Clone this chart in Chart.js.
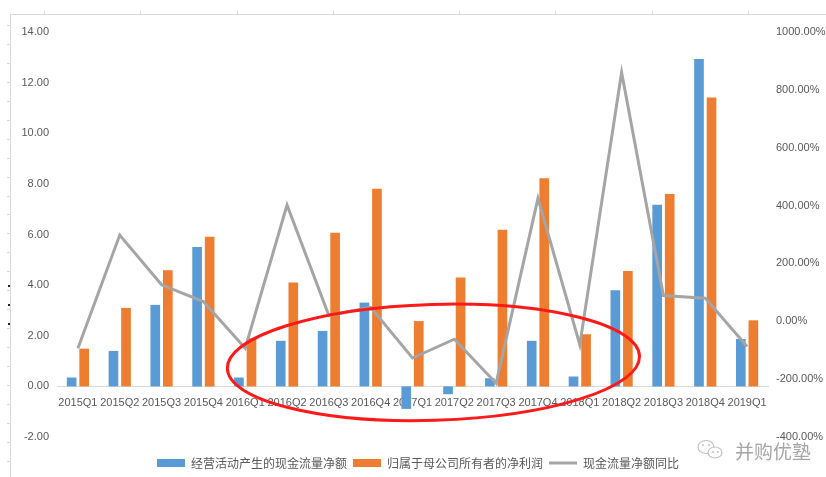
<!DOCTYPE html>
<html>
<head>
<meta charset="utf-8">
<script src="https://cdn.jsdelivr.net/npm/chart.js@4.4.0/dist/chart.umd.min.js"></script>
<style>
  html, body { margin: 0; padding: 0; background: #fff; }
  #wrap { position: relative; width: 826px; height: 477px; }
  #mark {
    position: absolute; left: 735px; top: 437px;
    font: 19px "Noto Sans CJK SC", sans-serif; color: #a6a6a6;
    letter-spacing: 0px; white-space: nowrap;
  }
</style>
</head>
<body>
<div id="wrap">
  <canvas id="chart" width="826" height="477"></canvas>
  <div id="mark">并购优塾</div>
</div>
<script>
const categories = ["2015Q1", "2015Q2", "2015Q3", "2015Q4", "2016Q1", "2016Q2", "2016Q3", "2016Q4",
    "2017Q1", "2017Q2", "2017Q3", "2017Q4", "2018Q1", "2018Q2", "2018Q3", "2018Q4", "2019Q1"];
const cashFlow = [0.35, 1.40, 3.22, 5.51, 0.35, 1.80, 2.19, 3.31, -0.89, -0.31, 0.32, 1.80, 0.39, 3.80, 7.18, 12.93, 1.87];
const netProfit = [1.49, 3.10, 4.59, 5.91, 1.90, 4.10, 6.07, 7.81, 2.58, 4.30, 6.19, 8.22, 2.06, 4.56, 7.60, 11.41, 2.61];
const cashFlowYoY = [-93, 298, 126, 68, -93, 402, 20, 48, -127, -62, -214, 425, -81, 860, 89, 80, -87];
const leftTicks = [-2, 0, 2, 4, 6, 8, 10, 12, 14];
const rightTicks = [-400, -200, 0, 200, 400, 600, 800, 1000];

const seriesNames = ["经营活动产生的现金流量净额", "归属于母公司所有者的净利润", "现金流量净额同比"];
const labelFont = { family: "'Liberation Sans', Arial, sans-serif", size: 11 };

// frame left over from the screenshot + the hand drawn red ellipse + wechat icon
const decorPlugin = {
    id: "decor",
    beforeDraw(chart) {
        const ctx = chart.ctx;
        ctx.save();
        ctx.strokeStyle = "#d9d9d9";
        ctx.lineWidth = 1;
        ctx.beginPath();
        ctx.moveTo(10, 14.5);
        ctx.lineTo(826, 14.5);
        ctx.moveTo(10.5, 14);
        ctx.lineTo(10.5, 477);
        [44, 140, 237, 333, 459, 555, 652, 748].forEach((x) => {
            ctx.moveTo(x + 0.5, 11);
            ctx.lineTo(x + 0.5, 14);
        });
        for (let y = 25; y < 477; y += 18.95) {
            ctx.moveTo(7, Math.round(y) + 0.5);
            ctx.lineTo(10, Math.round(y) + 0.5);
        }
        ctx.stroke();
        ctx.fillStyle = "#222";
        [285, 304, 323].forEach((y) => ctx.fillRect(8, y, 2, 2));
        ctx.restore();
    },
    afterDraw(chart) {
        const ctx = chart.ctx;
        const xs = chart.scales.x;
        const ys = chart.scales.y;
        const step = xs.getPixelForValue(1) - xs.getPixelForValue(0);
        const unit = ys.getPixelForValue(0) - ys.getPixelForValue(1);
        ctx.save();
        ctx.strokeStyle = "#ff1a1a";
        ctx.lineWidth = 3;
        ctx.beginPath();
        ctx.ellipse(xs.getPixelForValue(8.5), ys.getPixelForValue(0.95), 4.93 * step, 2.29 * unit, -0.03, 0, Math.PI * 2);
        ctx.stroke();

        // wechat icon next to the watermark
        ctx.strokeStyle = "#bfbfbf";
        ctx.lineWidth = 1.2;
        ctx.beginPath();
        ctx.ellipse(706, 447, 8, 6.5, 0, 0, Math.PI * 2);
        ctx.stroke();
        ctx.fillStyle = "#fff";
        ctx.beginPath();
        ctx.ellipse(715, 452.5, 7, 5.5, 0, 0, Math.PI * 2);
        ctx.fill();
        ctx.stroke();
        ctx.fillStyle = "#bfbfbf";
        [[703, 445], [709, 445], [713, 452], [718, 452]].forEach(([x, y]) => {
            ctx.beginPath();
            ctx.arc(x, y, 0.9, 0, Math.PI * 2);
            ctx.fill();
        });
        ctx.restore();
    },
};

const ctx = document.getElementById("chart").getContext("2d");
new Chart(ctx, {
    data: {
        labels: categories,
        datasets: [
            {
                type: "bar",
                label: seriesNames[0],
                data: cashFlow,
                backgroundColor: "#5b9bd5",
                yAxisID: "y",
                order: 1,
                categoryPercentage: 0.6,
                barPercentage: 0.77,
            },
            {
                type: "bar",
                label: seriesNames[1],
                data: netProfit,
                backgroundColor: "#ed7d31",
                yAxisID: "y",
                order: 1,
                categoryPercentage: 0.6,
                barPercentage: 0.77,
            },
            {
                type: "line",
                label: seriesNames[2],
                data: cashFlowYoY,
                borderColor: "#a5a5a5",
                backgroundColor: "#a5a5a5",
                borderWidth: 3,
                pointRadius: 0,
                tension: 0,
                yAxisID: "y1",
                order: 0,
            },
        ],
    },
    options: {
        responsive: false,
        animation: false,
        layout: { padding: { left: 10, right: 0, top: 32, bottom: -2 } },
        plugins: {
            tooltip: { enabled: false },
            legend: {
                position: "bottom",
                labels: {
                    usePointStyle: true,
                    pointStyleWidth: 28,
                    boxHeight: 8,
                    padding: 6,
                    color: "#595959",
                    font: { family: "'Noto Sans CJK SC', sans-serif", size: 12 },
                    sort: (a, b) => a.datasetIndex - b.datasetIndex,
                    generateLabels(chart) {
                        const items = Chart.defaults.plugins.legend.labels.generateLabels(chart);
                        items.forEach((it) => {
                            const ds = chart.data.datasets[it.datasetIndex];
                            if (ds.type === "line") {
                                it.pointStyle = "line";
                                it.lineWidth = 3;
                                it.strokeStyle = ds.borderColor;
                            } else {
                                it.pointStyle = "rect";
                                it.lineWidth = 0;
                            }
                        });
                        return items;
                    },
                },
            },
        },
        scales: {
            x: {
                type: "category",
                position: { y: 0 },
                grid: { drawOnChartArea: false, drawTicks: false },
                border: { color: "#d9d9d9", width: 1 },
                ticks: {
                    autoSkip: false,
                    maxRotation: 0,
                    padding: 10,
                    color: "#595959",
                    font: labelFont,
                },
            },
            xPad: {
                type: "category",
                position: "bottom",
                grid: { display: false },
                border: { display: false },
                ticks: { display: false },
                afterFit: (s) => { s.height = 14; },
            },
            y: {
                position: "left",
                min: leftTicks[0],
                max: leftTicks[leftTicks.length - 1],
                grid: { display: false, drawTicks: false },
                border: { display: false },
                afterBuildTicks: (s) => { s.ticks = leftTicks.map((v) => ({ value: v })); },
                afterFit: (s) => { s.width = 47; },
                ticks: {
                    padding: 8,
                    color: "#595959",
                    font: labelFont,
                    callback: (v) => v.toFixed(2),
                },
            },
            y1: {
                position: "right",
                min: rightTicks[0],
                max: rightTicks[rightTicks.length - 1],
                grid: { display: false, drawTicks: false },
                border: { display: false },
                afterBuildTicks: (s) => { s.ticks = rightTicks.map((v) => ({ value: v })); },
                afterFit: (s) => { s.width = 58; },
                ticks: {
                    padding: 8,
                    color: "#595959",
                    font: labelFont,
                    callback: (v) => v.toFixed(2) + "%",
                },
            },
        },
    },
    plugins: [decorPlugin],
});
</script>
</body>
</html>
